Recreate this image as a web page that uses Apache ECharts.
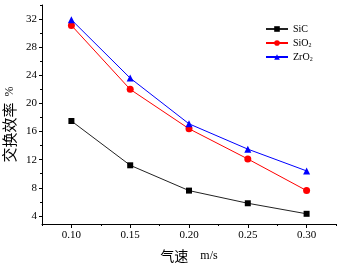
<!DOCTYPE html>
<html>
<head>
<meta charset="utf-8">
<script src="https://cdn.jsdelivr.net/npm/echarts@6/dist/echarts.min.js"></script>
<style>
  html, body { margin: 0; padding: 0; background: #fff; }
  #chart { width: 340px; height: 266px; }
</style>
</head>
<body>
<div id="chart"></div>
<script>
  // 气速 (m/s)
  var speeds = [0.10, 0.15, 0.20, 0.25, 0.30];
  // 交换效率 %
  var sic = [17.5, 11.2, 7.6, 5.8, 4.3];
  var sio2 = [31.1, 22.0, 16.4, 12.1, 7.6];
  var zro2 = [31.9, 23.6, 17.1, 13.5, 10.4];

  var xMajor = [0.10, 0.15, 0.20, 0.25, 0.30];
  var xMinor = [0.075, 0.125, 0.175, 0.225, 0.275, 0.325];
  var yMajor = [4, 8, 12, 16, 20, 24, 28, 32];
  var yMinor = [6, 10, 14, 18, 22, 26, 30, 34];

  var serif = '"Liberation Serif", "Noto Sans CJK SC", serif';
  var cjk = '"Noto Sans CJK SC", sans-serif';

  function pairs(ys) {
    return speeds.map(function (x, i) { return [x, ys[i]]; });
  }

  var xRange = { min: 0.075, max: 0.325 };
  var yRange = { min: 2.85, max: 34 };

  var option = {
    backgroundColor: '#fff',
    animation: false,
    grid: { left: 42, right: 4, top: 5, bottom: 42, outerBoundsMode: 'none' },
    legend: {
      orient: 'vertical',
      left: 265,
      top: 24,
      padding: 0,
      itemWidth: 22,
      itemHeight: 7,
      itemGap: 4,
      textStyle: {
        fontFamily: serif,
        fontSize: 10,
        color: '#000',
        rich: {
          a: { fontFamily: serif, fontSize: 10, color: '#000' },
          s: { fontFamily: serif, fontSize: 6, color: '#000', verticalAlign: 'bottom', padding: [4, 0, 0, 0] }
        }
      },
      formatter: function (name) {
        if (name === 'SiO2') return '{a|SiO}{s|2}';
        if (name === 'ZrO2') return '{a|ZrO}{s|2}';
        return '{a|' + name + '}';
      },
      data: ['SiC', 'SiO2', 'ZrO2']
    },
    xAxis: [
      {
        type: 'value',
        min: xRange.min,
        max: xRange.max,
        name: '{c|气速}    {e|m/s}',
        nameLocation: 'middle',
        nameGap: 25,
        nameMoveOverlap: false,
        nameTextStyle: {
          fontFamily: serif,
          fontSize: 12,
          color: '#000',
          rich: {
            c: { fontFamily: cjk, fontSize: 14, color: '#000' },
            e: { fontFamily: serif, fontSize: 12, color: '#000' }
          }
        },
        axisLine: { show: true, onZero: false, lineStyle: { color: '#000', width: 1 } },
        axisTick: { show: true, inside: false, length: 4, customValues: xMajor, lineStyle: { color: '#000' } },
        axisLabel: {
          customValues: xMajor,
          margin: 6,
          fontFamily: serif,
          fontSize: 11,
          color: '#000',
          formatter: function (v) { return v.toFixed(2); }
        },
        splitLine: { show: false }
      },
      {
        type: 'value',
        position: 'bottom',
        min: xRange.min,
        max: xRange.max,
        axisLine: { show: false, onZero: false },
        axisTick: { show: true, length: 2, customValues: xMinor, lineStyle: { color: '#000' } },
        axisLabel: { show: false },
        splitLine: { show: false }
      }
    ],
    yAxis: [
      {
        type: 'value',
        min: yRange.min,
        max: yRange.max,
        name: '{c|交换效率}  {e|%}',
        nameLocation: 'middle',
        nameGap: 25,
        nameMoveOverlap: false,
        nameRotate: 90,
        nameTextStyle: {
          fontFamily: serif,
          fontSize: 12,
          color: '#000',
          padding: [0, 20, 0, 0],
          rich: {
            c: { fontFamily: cjk, fontSize: 15, color: '#000' },
            e: { fontFamily: serif, fontSize: 12, color: '#000' }
          }
        },
        axisLine: { show: true, onZero: false, lineStyle: { color: '#000', width: 1 } },
        axisTick: { show: true, inside: false, length: 3, customValues: yMajor, lineStyle: { color: '#000' } },
        axisLabel: {
          customValues: yMajor,
          margin: 5,
          fontFamily: serif,
          fontSize: 11,
          color: '#000'
        },
        splitLine: { show: false }
      },
      {
        type: 'value',
        position: 'left',
        min: yRange.min,
        max: yRange.max,
        axisLine: { show: false, onZero: false },
        axisTick: { show: true, length: 2, customValues: yMinor, lineStyle: { color: '#000' } },
        axisLabel: { show: false },
        splitLine: { show: false }
      }
    ],
    series: [
      {
        name: 'SiC',
        type: 'line',
        data: pairs(sic),
        symbol: 'rect',
        symbolSize: 6,
        color: '#000',
        lineStyle: { width: 1, color: '#222' }
      },
      {
        name: 'SiO2',
        type: 'line',
        data: pairs(sio2),
        symbol: 'circle',
        symbolSize: 7,
        color: '#ff0000',
        lineStyle: { width: 1, color: '#ff0000' }
      },
      {
        name: 'ZrO2',
        type: 'line',
        data: pairs(zro2),
        symbol: 'triangle',
        symbolSize: 7,
        color: '#0000ff',
        lineStyle: { width: 1, color: '#0000ff' }
      }
    ]
  };

  var chart = echarts.init(document.getElementById('chart'));
  chart.setOption(option);
</script>
</body>
</html>
